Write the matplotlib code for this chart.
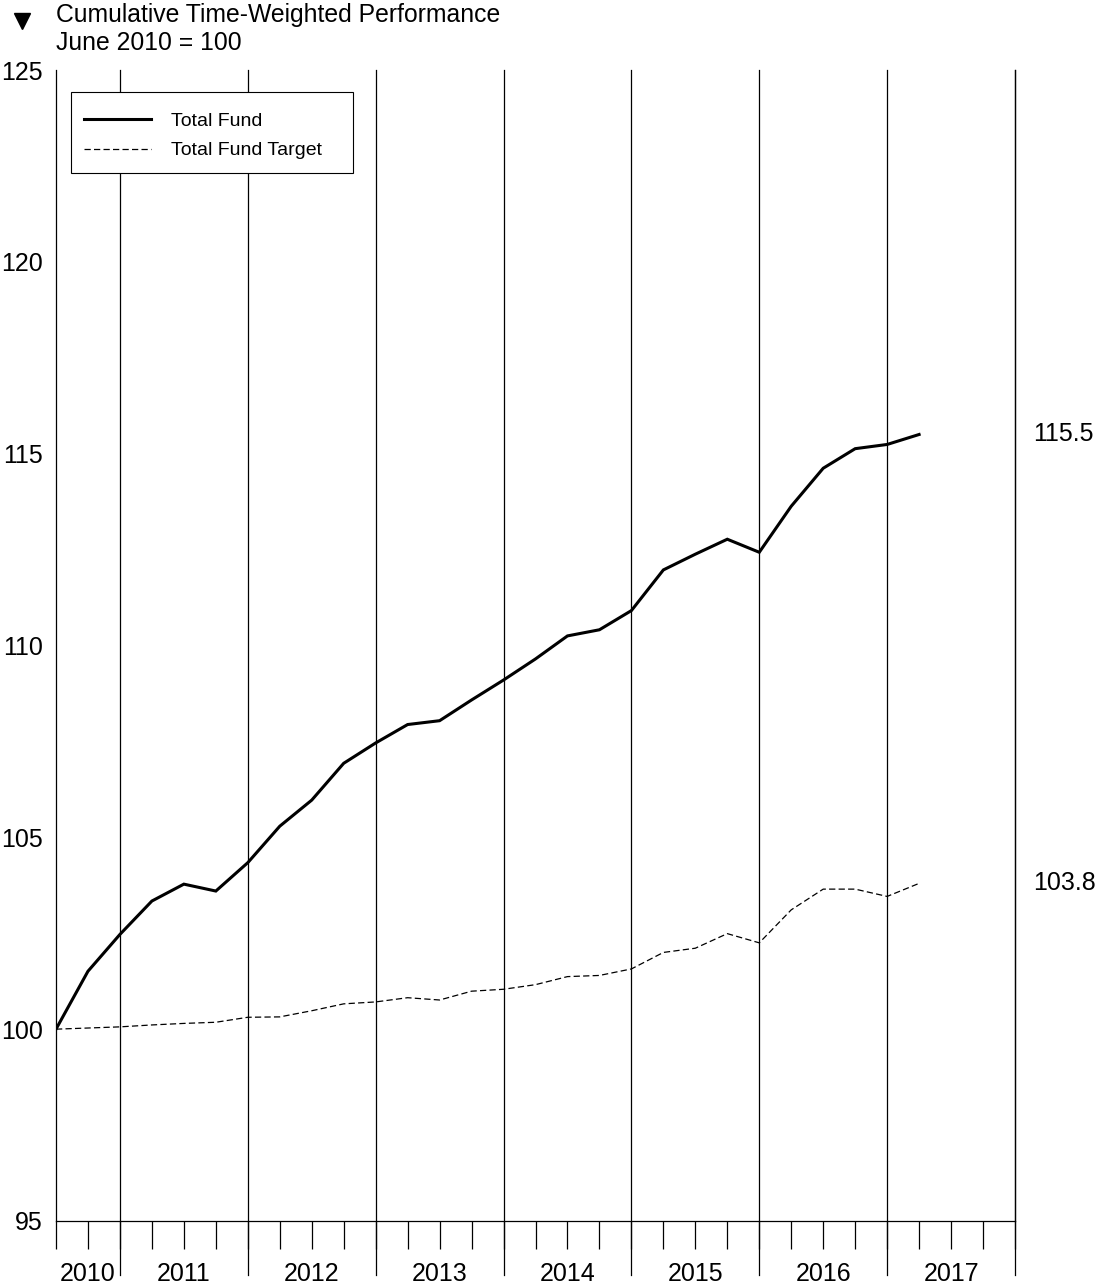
import matplotlib
matplotlib.use("Agg")
import matplotlib.pyplot as plt
from matplotlib.lines import Line2D
from matplotlib.patches import Rectangle

plt.rcParams['font.family'] = ['Liberation Sans', 'DejaVu Sans']

# Quarter-end index: 0 = June 2010, one step per quarter, last = March 2017
quarters = list(range(28))

total_fund = [100.00, 101.51, 102.47, 103.34, 103.78, 103.60, 104.34, 105.29,
              105.97, 106.93, 107.46, 107.94, 108.04, 108.58, 109.10, 109.65,
              110.25, 110.41, 110.91, 111.97, 112.38, 112.77, 112.43, 113.63,
              114.62, 115.13, 115.24, 115.50]

total_fund_target = [100.00, 100.03, 100.06, 100.11, 100.15, 100.18, 100.31, 100.32,
                     100.48, 100.66, 100.71, 100.82, 100.76, 100.99, 101.04, 101.16,
                     101.37, 101.40, 101.57, 102.00, 102.11, 102.49, 102.25, 103.11,
                     103.65, 103.65, 103.46, 103.80]

years = ['2010', '2011', '2012', '2013', '2014', '2015', '2016', '2017']
# Year-end (December) positions in quarter units; the axis runs to December 2017
year_ends = [2, 6, 10, 14, 18, 22, 26, 30]
y_ticks = [95, 100, 105, 110, 115, 120, 125]

W, H = 1097, 1286
fig = plt.figure(figsize=(W / 100, H / 100), dpi=100)
ax = fig.add_axes([56 / W, 65 / H, 959 / W, 1151 / H])

ax.set_xlim(0, 30)
ax.set_ylim(95, 125)

ax.plot(quarters, total_fund, color='black', lw=2.2, solid_joinstyle='miter',
        label='Total Fund', zorder=3)
ax.plot(quarters, total_fund_target, color='black', lw=0.9,
        linestyle=(0, (5, 2.6)), label='Total Fund Target', zorder=3)

# Year separators, running from the top of the plot down past the quarter ticks
trans = ax.get_xaxis_transform()
drop = -54 / 1151
for xe in year_ends:
    ax.plot([xe, xe], [1.0, drop], transform=trans, color='black', lw=0.9,
            clip_on=False, zorder=2)

# Quarter ticks
ax.set_xticks(range(0, 31), minor=True)
ax.set_xticks([])
ax.tick_params(axis='x', which='minor', length=20, width=0.9, color='black',
               direction='out')

# Year labels centred in each year's span
starts = [0] + year_ends[:-1]
for lab, s, e in zip(years, starts, year_ends):
    ax.text((s + e) / 2, -53 / 1151, lab, transform=trans, ha='center',
            va='center', fontsize=18)

ax.set_yticks(y_ticks)
ax.set_yticklabels([str(v) for v in y_ticks])
ax.tick_params(axis='y', length=0, pad=9.5, labelsize=18)

for side in ['left', 'bottom', 'right']:
    ax.spines[side].set_linewidth(0.9)
    ax.spines[side].set_color('black')
ax.spines['top'].set_visible(False)

# End-of-series values to the right of the plot
for series in (total_fund, total_fund_target):
    ax.annotate(f"{series[-1]:.1f}", xy=(1.0, series[-1]),
                xycoords=('axes fraction', 'data'), xytext=(13, 0),
                textcoords='offset points', ha='left', va='center',
                fontsize=18, annotation_clip=False)

# Legend entries with a plain rectangular frame around them
ax.add_patch(Rectangle((71 / W, 1 - 173 / H), 282 / W, 81 / H,
                       transform=fig.transFigure, facecolor='white',
                       edgecolor='black', lw=0.8, zorder=4, clip_on=False))
leg = ax.legend(loc='center left', bbox_to_anchor=(84 / W, 1 - 136 / H),
                bbox_transform=fig.transFigure, borderaxespad=0, borderpad=0,
                fontsize=14, frameon=False, handlelength=3.45,
                handletextpad=1.0, labelspacing=0.6)
leg.set_zorder(5)

# Heading with marker
fig.add_artist(Line2D([21.5 / W], [1 - 20.5 / H], transform=fig.transFigure,
                      marker='v', markersize=12, color='black', linestyle='none'))
fig.text(56 / W, 1 - 22 / H, 'Cumulative Time-Weighted Performance',
         fontsize=17.8, ha='left', va='baseline')
fig.text(56 / W, 1 - 50 / H, 'June 2010 = 100', fontsize=17.8, ha='left',
         va='baseline')

fig.savefig('out.png', dpi=100, facecolor='white')
